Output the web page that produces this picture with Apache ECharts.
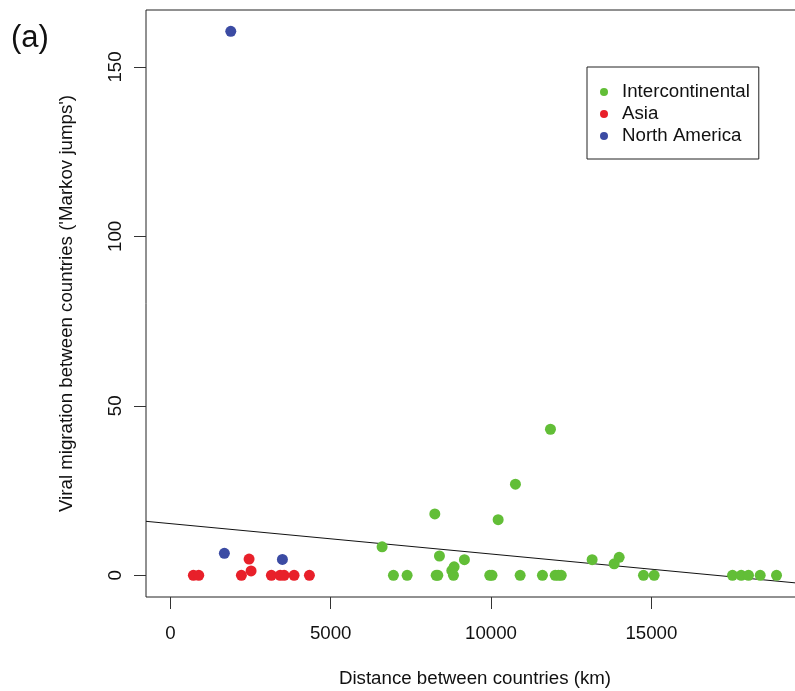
<!DOCTYPE html>
<html>
<head>
<meta charset="utf-8">
<script src="https://cdn.jsdelivr.net/npm/echarts@6/dist/echarts.min.js"></script>
<style>
html,body{margin:0;padding:0;background:#fff;}
#c{width:795px;height:691px;}
</style>
</head>
<body>
<div id="c"></div>
<script>
// Data: [distance km, Markov jumps]
const intercontinental = [
  [6603, 8.4], [6956, 0], [7383, 0], [8247, 18.1], [8290, 0], [8340, 0],
  [8391, 5.7], [8777, 1.4], [8828, 0], [8849, 2.5], [9170, 4.6], [9960, 0],
  [10030, 0], [10222, 16.4], [10761, 26.9], [10908, 0], [11603, 0], [11853, 43.1],
  [12000, 0], [12100, 0], [12190, 0], [13153, 4.6], [13840, 3.4], [13996, 5.3],
  [14754, 0], [15087, 0], [17530, 0], [17801, 0], [18029, 0], [18394, 0], [18903, 0]
];
const asia = [
  [717, 0], [885, 0], [2215, 0], [2455, 4.8], [2517, 1.3], [3150, 0],
  [3422, 0], [3547, 0], [3858, 0], [4336, 0]
];
const northAmerica = [
  [1684, 6.5], [1884, 160.5], [3494, 4.7]
];
// regression line end points (read at the plot edges)
const fitLine = [[-760, 15.93], [19760, -2.47]];

const xTicks = [0, 5000, 10000, 15000];
const yTicks = [0, 50, 100, 150];
const xRange = [-760, 19760];
const yRange = [-6.4, 166.8];

const FONT = 'Liberation Sans, Arial, Helvetica, sans-serif';
const FS = 18.7;
const chart = echarts.init(document.getElementById('c'), null, {renderer: 'canvas'});

chart.setOption({
  animation: false,
  backgroundColor: '#fff',
  textStyle: {fontFamily: FONT},
  grid: {
    left: 146, top: 10, width: 658, height: 587,
    show: true, borderColor: '#222', borderWidth: 1, backgroundColor: 'transparent',
    containLabel: false, outerBoundsMode: 'none'
  },
  xAxis: {
    type: 'value', min: xRange[0], max: xRange[1],
    name: 'Distance between countries (km)',
    nameLocation: 'middle', nameGap: 72,
    nameTextStyle: {fontSize: FS, color: '#111', fontFamily: FONT},
    axisLine: {show: false, onZero: false},
    axisTick: {show: true, inside: false, length: 12, customValues: xTicks, lineStyle: {color: '#333'}},
    axisLabel: {show: true, customValues: xTicks, fontSize: FS, color: '#111', margin: 27, fontFamily: FONT,
      formatter: v => String(v)},
    splitLine: {show: false}
  },
  yAxis: {
    type: 'value', min: yRange[0], max: yRange[1],
    name: "Viral migration between countries ('Markov jumps')",
    nameLocation: 'middle', nameGap: 70,
    nameTextStyle: {fontSize: FS, color: '#111', fontFamily: FONT},
    axisLine: {show: false, onZero: false},
    axisTick: {show: true, inside: false, length: 12, customValues: yTicks, lineStyle: {color: '#333'}},
    axisLabel: {show: true, customValues: yTicks, fontSize: FS, color: '#111', margin: 21, rotate: 90, fontFamily: FONT,
      formatter: v => String(v)},
    splitLine: {show: false}
  },
  legend: {
    orient: 'vertical', left: 587, top: 67,
    padding: [14, 9, 12, 13],
    borderColor: '#222', borderWidth: 1, borderRadius: 0,
    itemWidth: 8, itemHeight: 8, itemGap: 0, icon: 'circle',
    textStyle: {fontSize: FS, color: '#111', lineHeight: 22, fontFamily: FONT, padding: [0, 0, 0, 9]},
    data: ['Intercontinental', 'Asia', 'North America']
  },
  graphic: [{
    type: 'text', left: 11, top: 23,
    style: {text: '(a)', fontSize: 31, fill: '#111', fontFamily: FONT}
  }],
  series: [
    {
      name: 'Intercontinental', type: 'scatter', data: intercontinental,
      symbol: 'circle', symbolSize: 11, itemStyle: {color: '#62BE37', opacity: 1}
    },
    {
      name: 'Asia', type: 'scatter', data: asia,
      symbol: 'circle', symbolSize: 11, itemStyle: {color: '#E8202A', opacity: 1}
    },
    {
      name: 'North America', type: 'scatter', data: northAmerica,
      symbol: 'circle', symbolSize: 11, itemStyle: {color: '#3B4BA3', opacity: 1}
    },
    {
      name: 'fit', type: 'line', data: fitLine, showSymbol: false, symbol: 'none',
      lineStyle: {color: '#111', width: 1}, clip: true, silent: true, z: 1
    }
  ]
});
</script>
</body>
</html>
